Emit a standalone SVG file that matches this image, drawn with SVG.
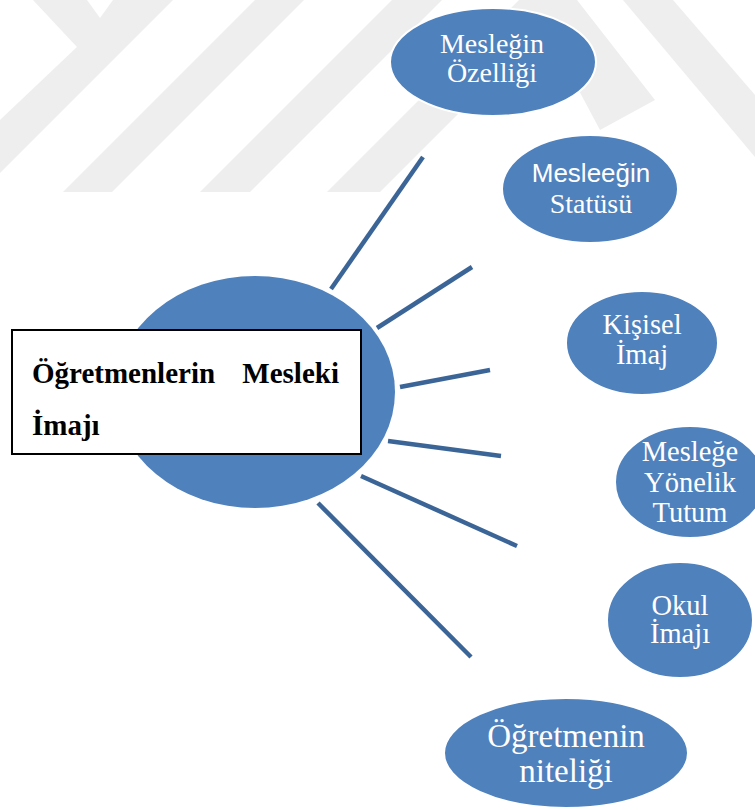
<svg xmlns="http://www.w3.org/2000/svg" width="755" height="810" viewBox="0 0 755 810">
<style>
.wm{fill:#eeeeee;stroke:none}
.node{fill:#4f81bd;stroke:#ffffff;stroke-width:2}
.lbl{font-family:"Liberation Serif","Times New Roman",serif;fill:#ffffff;text-anchor:middle}
.sans{font-family:"Liberation Sans",Arial,sans-serif}
.conn line{stroke:#3b6597;stroke-width:4.5;stroke-linecap:butt}
.title{font-family:"Liberation Serif","Times New Roman",serif;font-weight:bold;font-size:29px;fill:#000000}
</style>
<rect x="0" y="0" width="755" height="810" fill="#ffffff"/>
<g id="watermark">
<polygon class="wm" points="33,0 77,47 0,120 0,173 173,0 113,0 100,18 87,0"/>
<polygon class="wm" points="63,192 112,192 304,0 255,0"/>
<polygon class="wm" points="200,192 250,192 442,0 392,0"/>
<polygon class="wm" points="327,192 380,192 545,27 600,130 655,100 577,0 519,0"/>
<polygon class="wm" points="623,0 673,0 755,95 755,157"/>
</g>
<g id="connectors" class="conn">
<line x1="331" y1="289" x2="423" y2="157"/>
<line x1="377" y1="328" x2="472" y2="267"/>
<line x1="400" y1="387" x2="490" y2="370"/>
<line x1="388" y1="441" x2="501" y2="456"/>
<line x1="361" y1="476" x2="517" y2="546"/>
<line x1="318" y1="503" x2="471" y2="657"/>
</g>
<g id="center">
<ellipse cx="255" cy="392" rx="140" ry="116" fill="#4f81bd"/>
<rect x="12" y="330" width="349" height="124" fill="#ffffff" stroke="#000000" stroke-width="2"/>
<text class="title" x="32" y="383">Öğretmenlerin</text>
<text class="title" x="339" y="383" text-anchor="end">Mesleki</text>
<text class="title" x="32" y="435">İmajı</text>
</g>
<g id="n1">
<ellipse class="node" cx="493" cy="62" rx="103" ry="54"/>
<text class="lbl" x="492" y="53" font-size="28">Mesleğin</text>
<text class="lbl" x="492" y="82" font-size="28">Özelliği</text>
</g>
<g id="n2">
<ellipse class="node" cx="590" cy="189" rx="88" ry="54"/>
<text class="lbl sans" x="591" y="182" font-size="26">Mesleeğin</text>
<text class="lbl" x="591" y="213" font-size="28">Statüsü</text>
</g>
<g id="n3">
<ellipse class="node" cx="642" cy="343" rx="76" ry="52"/>
<text class="lbl" x="642" y="334" font-size="28.5">Kişisel</text>
<text class="lbl" x="642" y="364" font-size="28.5">İmaj</text>
</g>
<g id="n4">
<ellipse class="node" cx="690" cy="482" rx="75" ry="56"/>
<text class="lbl" x="690" y="461" font-size="28.5">Mesleğe</text>
<text class="lbl" x="690" y="492" font-size="28.5">Yönelik</text>
<text class="lbl" x="690" y="522" font-size="28.5">Tutum</text>
</g>
<g id="n5">
<ellipse class="node" cx="680" cy="620" rx="73" ry="58"/>
<text class="lbl" x="680" y="615" font-size="28.5">Okul</text>
<text class="lbl" x="680" y="643" font-size="28.5">İmajı</text>
</g>
<g id="n6">
<ellipse class="node" cx="566" cy="753" rx="122" ry="55"/>
<text class="lbl" x="566" y="747" font-size="33">Öğretmenin</text>
<text class="lbl" x="566" y="782" font-size="33">niteliği</text>
</g>
</svg>
